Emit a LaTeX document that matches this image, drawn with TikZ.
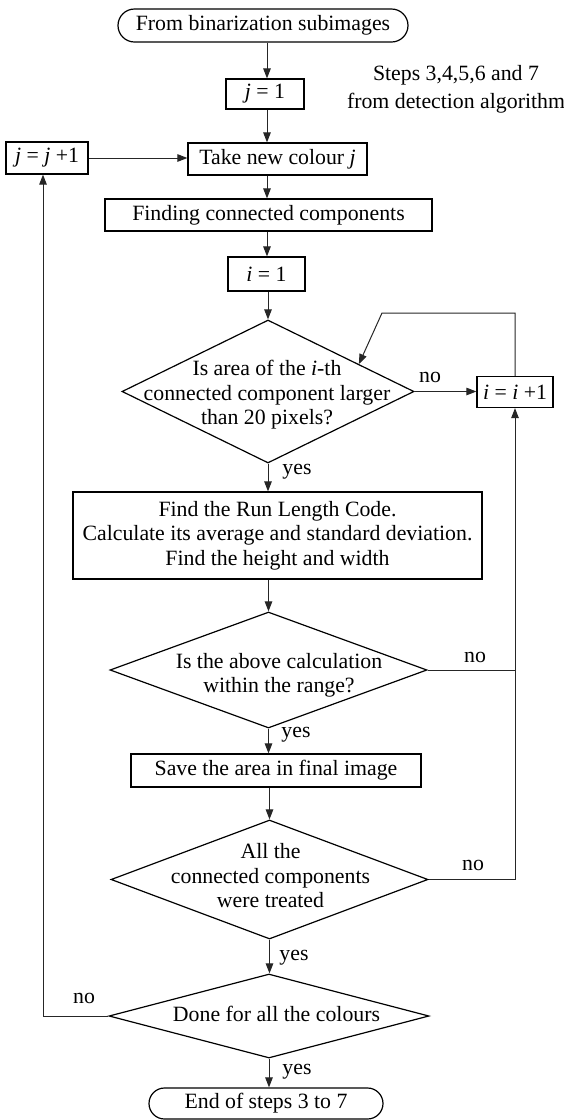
\documentclass[tikz,border=0pt]{standalone}
\usepackage{fontspec}
\setmainfont{Liberation Serif}
\usetikzlibrary{shapes.geometric,shapes.misc,arrows.meta,calc}
\begin{document}
\begin{tikzpicture}[x=1pt,y=-1pt,
  every node/.style={font=\fontsize{21.8}{24.5}\selectfont},
  box/.style={draw=black, rectangle, line width=1.2pt, inner sep=0pt, align=center},
  term/.style={draw=black, rounded rectangle, line width=1.2pt, inner sep=0pt},
  decision/.style={draw=black, diamond, line width=1.2pt, inner sep=0pt},
  txt/.style={inner sep=0pt, align=center},
  lbl/.style={inner sep=0pt},
  flow/.style={draw=black!85, line width=1pt, -{Triangle[length=10pt,width=7.5pt]}},
  plain/.style={draw=black!85, line width=1pt}]
\useasboundingbox (0,0) rectangle (564,1120);

% axes used by the connectors
\coordinate (ax) at (267,0);
\coordinate (lx) at (43,0);
\coordinate (loop) at (382,313);

% nodes
\node[term, minimum width=290, minimum height=33] (start) at (263,25.5) {From binarization subimages};
\node[txt, font=\fontsize{21.8}{28}\selectfont] (note) at (456,89) {Steps 3,4,5,6 and 7\\from detection algorithm};
\node[box, minimum width=78, minimum height=30] (j1) at (265,94) {\textit{j} = 1};
\node[box, minimum width=179, minimum height=32] (take) at (277.5,159) {Take new colour \textit{j}};
\node[box, minimum width=82, minimum height=32] (jj) at (47,158) {\textit{j} = \textit{j} +1};
\node[box, minimum width=327, minimum height=32] (fcc) at (268.5,215) {Finding connected components};
\node[box, minimum width=77, minimum height=34] (i1) at (266.5,274) {\textit{i} = 1};

\node[decision, minimum width=292, minimum height=143] (d1) at (268,391.5) {};
\node[txt] (d1t) at (267,395) {Is area of the \textit{i}-th\\connected component larger\\than 20 pixels?};
\node[box, minimum width=76, minimum height=31] (ii) at (515,392) {\textit{i} = \textit{i} +1};

\node[box, minimum width=409, minimum height=87] (rlc) at (277.5,535.5) {Find the Run Length Code.\\Calculate its average and standard deviation.\\Find the height and width};

\node[decision, minimum width=317, minimum height=116] (d2) at (268.5,670) {};
\node[txt] (d2t) at (279,675.5) {Is the above calculation\\within the range?};

\node[box, minimum width=290, minimum height=33] (save) at (276,770.5) {Save the area in final image};

\node[decision, minimum width=317, minimum height=119] (d3) at (269.5,879.5) {};
\node[txt] (d3t) at (270.5,876) {All the\\connected components\\were treated};

\node[decision, minimum width=320, minimum height=84] (d4) at (269,1016) {};
\node[txt] (d4t) at (276.5,1014) {Done for all the colours};

\node[term, minimum width=234, minimum height=31] (end) at (266,1103.5) {End of steps 3 to 7};

% branch labels
\node[lbl] (no1) at (430,377) {no};
\node[lbl] (yes1) at (297,472) {yes};
\node[lbl] (no2) at (475,657) {no};
\node[lbl] (yes2) at (296,735) {yes};
\node[lbl] (no3) at (473,865) {no};
\node[lbl] (yes3) at (294,958) {yes};
\node[lbl] (no4) at (84,998) {no};
\node[lbl] (yes4) at (297,1072) {yes};

% main flow
\draw[flow] (start.south -| ax) -- (j1.north -| ax);
\draw[flow] (j1.south -| ax) -- (take.north -| ax);
\draw[flow] (take.south -| ax) -- (fcc.north -| ax);
\draw[flow] (fcc.south -| ax) -- (i1.north -| ax);
\draw[flow] (i1.south -| d1.north) -- (d1.north);
\draw[flow] (d1.south) -- (d1.south |- rlc.north);
\draw[flow] (rlc.south -| d2.north) -- (d2.north);
\draw[flow] (d2.south) -- (d2.south |- save.north);
\draw[flow] (save.south -| d3.north) -- (d3.north);
\draw[flow] (d3.south) -- (d3.south |- d4.north);
\draw[flow] (d4.south) -- (d4.south |- end.north);

% inner loop over components
\draw[flow] (d1.east) -- (d1.east -| ii.west);
\draw[flow] (ii.north) -- (ii.north |- loop) -- (loop) -- ($(d1.north)!0.62!(d1.east)$);
\draw[plain] (d2.east) -- (d2.east -| ii.south);
\draw[flow] (d3.east) -- (d3.east -| ii.south) -- (ii.south);

% outer loop over colours
\draw[flow] (d4.west) -- (d4.west -| lx) -- (lx |- jj.south);
\draw[flow] (jj.east) -- (jj.east -| take.west);
\end{tikzpicture}
\end{document}
